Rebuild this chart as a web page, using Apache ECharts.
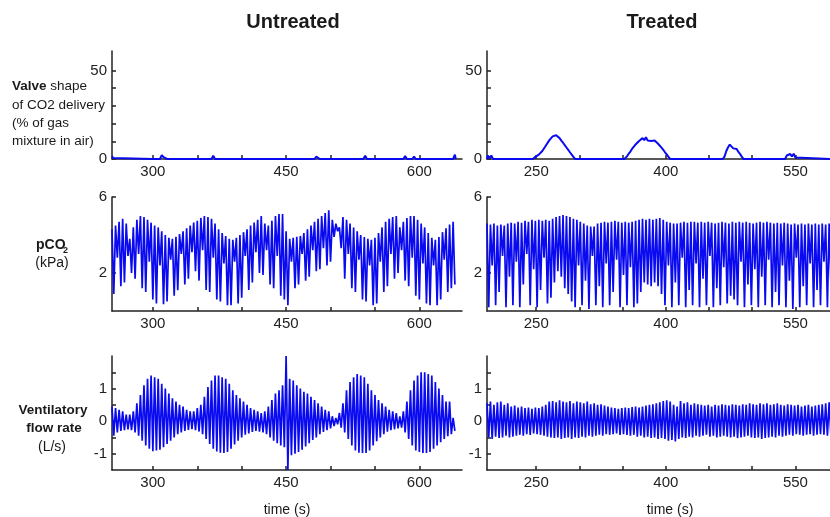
<!DOCTYPE html>
<html>
<head>
<meta charset="utf-8">
<script src="https://cdn.jsdelivr.net/npm/echarts@6/dist/echarts.min.js"></script>
<style>html,body{margin:0;padding:0;background:#fff}#main{width:830px;height:517px}</style>
</head>
<body>
<div id="main"></div>
<script>
var FONT = "'Liberation Sans', Arial, Helvetica, sans-serif";
var BLUE = '#0a0af0';

// breath-by-breath samples: one peak and one trough per breath
var breathStep = 4;
var untreatedStart = 254;
var treatedStart = 193;

var pco2UntreatedPeak = [4.3, 4.5, 4.7, 4.85, 4.6, 3.8, 4.4, 4.8, 5.0, 4.95,
  4.8, 4.65, 4.5, 4.4, 4.2, 4.0, 3.85, 3.8, 3.9, 4.05,
  4.2, 4.35, 4.5, 4.65, 4.75, 4.9, 5.0, 4.95, 4.85, 4.6,
  4.3, 4.1, 3.95, 3.8, 3.75, 3.85, 4.0, 4.15, 4.3, 4.5,
  4.65, 4.8, 5.0, 4.6, 4.5, 4.75, 5.0, 5.1, 5.1, 4.2,
  3.8, 3.85, 3.9, 3.95, 4.1, 4.3, 4.5, 4.7, 4.85, 5.0,
  5.15, 5.3, 4.8, 4.6, 4.4, 4.95, 4.8, 4.6, 4.4, 4.2,
  4.0, 3.9, 3.8, 3.75, 3.85, 4.1, 4.4, 4.7, 4.85, 4.95,
  5.0, 4.4, 4.7, 4.9, 5.0, 5.0, 4.8, 4.6, 4.4, 4.1,
  3.85, 3.75, 3.9, 4.15, 4.35, 4.55, 4.7];
var pco2UntreatedTrough = [0.9, 2.8, 1.3, 1.5, 2.9, 2.0, 1.7, 3.0, 1.2, 1.0,
  2.6, 0.6, 0.4, 2.4, 0.35, 0.5, 2.7, 0.8, 1.1, 3.0,
  1.4, 1.7, 3.1, 2.1, 1.6, 3.2, 1.1, 1.0, 2.8, 0.6,
  0.5, 2.5, 0.3, 0.3, 2.6, 0.4, 0.7, 2.9, 1.1, 1.5,
  3.1, 2.0, 1.9, 3.2, 1.4, 1.2, 2.9, 0.8, 0.6, 0.3,
  2.6, 1.2, 1.4, 3.0, 1.6, 1.8, 3.2, 2.1, 2.2, 3.3,
  2.4, 2.6, 3.9, 4.2, 3.3, 1.7, 3.0, 1.2, 1.0, 2.7,
  0.6, 0.5, 2.4, 0.3, 0.4, 2.6, 1.0, 1.3, 3.0, 1.7,
  2.0, 3.2, 1.6, 1.3, 2.8, 0.8, 0.6, 2.5, 0.4, 0.3,
  2.4, 0.3, 0.6, 2.7, 1.0, 1.2, 1.4];

var flowUntreatedPeak = [0.45, 0.4, 0.35, 0.3, 0.2, 0.2, 0.3, 0.55, 0.8, 1.1,
  1.3, 1.4, 1.35, 1.3, 1.15, 1.0, 0.85, 0.7, 0.6, 0.5,
  0.45, 0.35, 0.3, 0.3, 0.4, 0.5, 0.75, 1.05, 1.25, 1.4,
  1.4, 1.35, 1.3, 1.15, 0.95, 0.8, 0.7, 0.6, 0.5, 0.4,
  0.35, 0.3, 0.25, 0.3, 0.45, 0.65, 0.85, 0.95, 1.1, 2.0,
  1.3, 1.25, 1.1, 1.0, 0.9, 0.85, 0.75, 0.65, 0.55, 0.45,
  0.35, 0.3, 0.15, 0.1, 0.25, 0.55, 0.95, 1.2, 1.35, 1.45,
  1.4, 1.35, 1.15, 0.95, 0.8, 0.65, 0.55, 0.45, 0.35, 0.3,
  0.25, 0.15, 0.3, 0.6, 0.95, 1.25, 1.4, 1.5, 1.5, 1.45,
  1.4, 1.2, 1.0, 0.8, 0.6, 0.6, 0.1];
var flowUntreatedTrough = [-0.45, -0.35, -0.3, -0.28, -0.25, -0.28, -0.35, -0.45, -0.6, -0.75,
  -0.85, -0.92, -0.9, -0.88, -0.8, -0.7, -0.6, -0.5, -0.4, -0.35,
  -0.3, -0.27, -0.25, -0.28, -0.32, -0.4, -0.55, -0.7, -0.85, -0.93,
  -0.97, -0.98, -0.95, -0.85, -0.72, -0.6, -0.5, -0.42, -0.38, -0.33,
  -0.3, -0.32, -0.35, -0.4, -0.5, -0.6, -0.68, -0.75, -0.8, -1.5,
  -1.05, -1.0, -0.95, -0.88, -0.78, -0.68, -0.58, -0.5, -0.4, -0.33,
  -0.28, -0.22, -0.15, -0.1, -0.2, -0.35, -0.55, -0.75, -0.9, -0.97,
  -0.98, -0.98, -0.9, -0.75, -0.62, -0.5, -0.4, -0.32, -0.28, -0.25,
  -0.22, -0.2, -0.35, -0.55, -0.75, -0.9, -0.95, -0.98, -0.98, -0.95,
  -0.85, -0.75, -0.65, -0.55, -0.46, -0.4, -0.3];

var pco2TreatedPeak = [4.6, 4.55, 4.6, 4.5, 4.55, 4.5, 4.6, 4.65, 4.6, 4.7,
  4.65, 4.75, 4.7, 4.8, 4.75, 4.8, 4.75, 4.8, 4.75, 4.85,
  4.95, 5.0, 5.05, 5.0, 4.95, 4.85, 4.8, 4.7, 4.6, 4.5,
  4.45, 4.45, 4.6, 4.65, 4.7, 4.65, 4.7, 4.75, 4.7, 4.65,
  4.7, 4.65, 4.7, 4.75, 4.8, 4.85, 4.8, 4.85, 4.8, 4.85,
  4.9, 4.8, 4.7, 4.65, 4.6, 4.6, 4.65, 4.7, 4.65, 4.7,
  4.7, 4.65, 4.7, 4.65, 4.7, 4.65, 4.6, 4.65, 4.7, 4.65,
  4.6, 4.7, 4.65, 4.7, 4.65, 4.7, 4.65, 4.6, 4.65, 4.7,
  4.65, 4.7, 4.65, 4.6, 4.65, 4.6, 4.65, 4.6, 4.55, 4.6,
  4.55, 4.6, 4.55, 4.6, 4.55, 4.6, 4.55, 4.6, 4.55, 4.6];
var pco2TreatedTrough = [0.2, 2.4, 0.3, 1.0, 2.9, 0.2, 1.8, 0.3, 2.6, 0.2,
  1.4, 3.0, 0.3, 2.2, 0.2, 1.1, 2.8, 0.4, 0.7, 1.5,
  2.1, 1.8, 1.2, 0.9, 0.5, 0.2, 2.4, 0.3, 1.6, 0.1,
  2.9, 0.3, 1.3, 0.2, 2.5, 0.3, 1.0, 2.7, 0.2, 1.9,
  0.3, 2.3, 0.2, 0.4, 1.0, 1.5, 1.4, 1.3, 1.5, 1.3,
  0.9, 0.3, 2.4, 0.2, 1.5, 0.3, 2.8, 0.2, 1.1, 0.3,
  2.5, 0.2, 1.7, 0.3, 2.9, 0.2, 1.2, 0.3, 2.3, 0.4,
  0.8, 0.6, 0.3, 2.6, 0.2, 1.4, 0.3, 2.2, 0.2, 1.8,
  0.3, 2.7, 0.2, 1.0, 0.3, 2.4, 0.2, 1.6, 0.1, 2.8,
  0.2, 1.3, 0.3, 2.5, 0.2, 1.1, 0.3, 2.6, 0.2, 1.5];

var flowTreatedPeak = [0.55, 0.6, 0.5, 0.58, 0.6, 0.5, 0.55, 0.45, 0.48, 0.42,
  0.45, 0.4, 0.42, 0.38, 0.42, 0.4, 0.45, 0.5, 0.6, 0.62,
  0.58, 0.64, 0.6, 0.58, 0.62, 0.55, 0.6, 0.58, 0.55, 0.6,
  0.52, 0.55, 0.5, 0.52, 0.48, 0.45, 0.42, 0.4, 0.38, 0.4,
  0.42, 0.4, 0.43, 0.45, 0.42, 0.45, 0.48, 0.5, 0.52, 0.55,
  0.58, 0.62, 0.64, 0.6, 0.5, 0.45, 0.62, 0.55, 0.58, 0.5,
  0.55, 0.52, 0.5, 0.48, 0.5, 0.45, 0.5, 0.48, 0.52, 0.5,
  0.48, 0.52, 0.5, 0.48, 0.52, 0.5, 0.55, 0.52, 0.5, 0.55,
  0.52, 0.55, 0.5, 0.52, 0.55, 0.5, 0.48, 0.52, 0.5, 0.48,
  0.5, 0.45, 0.48, 0.5, 0.45, 0.48, 0.5, 0.52, 0.55, 0.58];
var flowTreatedTrough = [-0.5, -0.55, -0.48, -0.52, -0.5, -0.45, -0.5, -0.48, -0.45, -0.42,
  -0.45, -0.4, -0.42, -0.38, -0.4, -0.42, -0.45, -0.48, -0.5, -0.52,
  -0.5, -0.55, -0.52, -0.5, -0.55, -0.5, -0.52, -0.48, -0.5, -0.45,
  -0.48, -0.45, -0.42, -0.45, -0.4, -0.42, -0.4, -0.38, -0.42, -0.4,
  -0.42, -0.45, -0.42, -0.48, -0.45, -0.5, -0.48, -0.52, -0.5, -0.55,
  -0.52, -0.55, -0.6, -0.58, -0.62, -0.55, -0.5, -0.52, -0.48, -0.5,
  -0.45, -0.48, -0.45, -0.42, -0.48, -0.45, -0.5, -0.48, -0.45, -0.48,
  -0.5, -0.48, -0.52, -0.5, -0.48, -0.45, -0.5, -0.52, -0.5, -0.55,
  -0.52, -0.5, -0.48, -0.5, -0.45, -0.48, -0.45, -0.42, -0.45, -0.4,
  -0.42, -0.45, -0.42, -0.4, -0.45, -0.42, -0.4, -0.42, -0.45, -0.42];

// valve (CO2 delivery, %) as time / value pairs
var valveUntreatedT = [254, 255, 257, 300, 308, 310, 312, 314, 316, 366, 368, 370, 424, 426, 428,
  482, 484, 486, 488, 537, 539, 541, 582, 584, 586, 592, 594, 596, 638, 640, 641];
var valveUntreatedV = [1.8, 0.6, 0, 0, 0, 2.2, 1.0, 2.0, 0, 0, 1.9, 0, 0, 1.0, 0,
  0, 1.3, 0.8, 0, 0, 1.9, 0, 0, 1.7, 0, 0, 1.3, 0, 0, 2.4, 0];
var valveTreatedT = [193, 194, 196, 198, 200,
  246, 249, 251, 253, 255, 257, 259, 261, 263, 265, 267, 269, 271, 273, 275, 277, 279, 281, 283, 285, 287, 289, 291, 293, 295,
  337, 338, 339,
  352, 355, 357, 359, 361, 363, 365, 367, 369, 371, 373, 375, 377, 379, 381, 383, 385, 387, 389, 391, 393, 395, 397, 399, 401, 403, 405,
  466, 468, 470, 472, 474, 476, 478, 480, 482, 484, 486, 488, 490,
  538, 540, 542, 544, 546, 548, 550, 552, 590];
var valveTreatedV = [0, 2, 0.5, 2, 0,
  0, 1.2, 0.5, 2.5, 1.5, 4.5, 5.5, 7.5, 8.5, 10.5, 11.5, 12.8, 13.6, 13.4, 12.8, 11.8, 10.4, 9.2, 7.8, 6.5, 5.2, 3.8, 2.5, 1.2, 0,
  0, 1.0, 0,
  0, 1.5, 3.0, 4.2, 5.8, 7.0, 8.2, 9.0, 10.2, 10.8, 11.8, 10.6, 12.3, 10.4, 11.5, 10.2, 11.0, 10.4, 9.5, 8.6, 7.5, 6.4, 5.2, 3.8, 2.6, 1.2, 0,
  0, 1.5, 4.5, 6.6, 8.1, 7.6, 6.0, 7.0, 5.7, 4.0, 2.8, 1.2, 0,
  0, 2.0, 1.0, 2.8, 1.5, 3.0, 0.8, 0, 0];

var untreatedLabels = [300, 450, 600];
var untreatedTicks = [300, 350, 400, 450, 500, 550, 600];
var treatedLabels = [250, 400, 550];
var treatedTicks = [250, 300, 350, 400, 450, 500, 550];

function breaths(t0, peaks, troughs) {
  var out = [];
  for (var i = 0; i < peaks.length; i++) {
    out.push([t0 + i * breathStep, peaks[i]]);
    out.push([t0 + i * breathStep + breathStep / 2, troughs[i]]);
  }
  return out;
}
function pairs(ts, vs) {
  return ts.map(function (t, i) { return [t, vs[i]]; });
}

var myChart = echarts.init(document.getElementById('main'));

var AX = '#222';
function xAx(g, min, max, labels, ticks) {
  return {
    type: 'value', gridIndex: g, min: min, max: max,
    axisLine: { onZero: false, lineStyle: { color: AX, width: 1.5 } },
    axisTick: { inside: true, length: 4, customValues: ticks, lineStyle: { color: AX, width: 1.5 } },
    axisLabel: { customValues: labels, color: AX, fontSize: 15, fontFamily: FONT, margin: 5 },
    splitLine: { show: false }
  };
}
function yAx(g, min, max, labels, ticks) {
  return {
    type: 'value', gridIndex: g, min: min, max: max,
    axisLine: { show: true, onZero: false, lineStyle: { color: AX, width: 1.5 } },
    axisTick: { show: true, inside: true, length: 4, customValues: ticks, lineStyle: { color: AX, width: 1.5 } },
    axisLabel: { customValues: labels, color: AX, fontSize: 15, fontFamily: FONT, margin: 5 },
    splitLine: { show: false }
  };
}
function trace(g, data, w) {
  return {
    type: 'line', xAxisIndex: g, yAxisIndex: g, data: data,
    showSymbol: false, symbol: 'none', animation: false,
    lineStyle: { color: BLUE, width: w }
  };
}

function txt(x, y, text, opts) {
  opts = opts || {};
  return {
    type: 'text', x: x, y: y,
    style: {
      text: text, fill: '#1a1a1a',
      font: (opts.bold ? 'bold ' : '') + (opts.size || 14) + 'px ' + FONT,
      align: opts.align || 'center', verticalAlign: 'middle',
      rich: opts.rich
    }
  };
}

var option = {
  backgroundColor: '#fff',
  animation: false,
  grid: [
    { left: 112, top: 51, width: 350, height: 108 },
    { left: 487, top: 51, width: 348, height: 108 },
    { left: 112, top: 197, width: 350, height: 114 },
    { left: 487, top: 197, width: 348, height: 114 },
    { left: 112, top: 356, width: 350, height: 114 },
    { left: 487, top: 356, width: 348, height: 114 }
  ],
  xAxis: [
    xAx(0, 254, 648, untreatedLabels, untreatedTicks),
    xAx(1, 193, 590, treatedLabels, treatedTicks),
    xAx(2, 254, 648, untreatedLabels, untreatedTicks),
    xAx(3, 193, 590, treatedLabels, treatedTicks),
    xAx(4, 254, 648, untreatedLabels, untreatedTicks),
    xAx(5, 193, 590, treatedLabels, treatedTicks)
  ],
  yAxis: [
    yAx(0, 0, 61, [0, 50], [0, 10, 20, 30, 40, 50]),
    yAx(1, 0, 61, [0, 50], [0, 10, 20, 30, 40, 50]),
    yAx(2, 0, 6, [2, 6], [2, 6]),
    yAx(3, 0, 6, [2, 6], [2, 6]),
    yAx(4, -1.5, 2, [-1, 0, 1], [-1, -0.5, 0, 0.5, 1, 1.5]),
    yAx(5, -1.5, 2, [-1, 0, 1], [-1, -0.5, 0, 0.5, 1, 1.5])
  ],
  series: [
    trace(0, pairs(valveUntreatedT, valveUntreatedV), 2),
    trace(1, pairs(valveTreatedT, valveTreatedV), 2),
    trace(2, breaths(untreatedStart, pco2UntreatedPeak, pco2UntreatedTrough), 1.7),
    trace(3, breaths(treatedStart, pco2TreatedPeak, pco2TreatedTrough), 1.7),
    trace(4, breaths(untreatedStart, flowUntreatedPeak, flowUntreatedTrough), 1.7),
    trace(5, breaths(treatedStart, flowTreatedPeak, flowTreatedTrough), 1.7)
  ],
  graphic: [
    txt(293, 22, 'Untreated', { bold: true, size: 20 }),
    txt(662, 22, 'Treated', { bold: true, size: 20 }),
    txt(12, 86, '{b|Valve} shape', { align: 'left', size: 13.5,
      rich: { b: { fontWeight: 'bold', fontSize: 13.5, fontFamily: FONT, fill: '#1a1a1a' } } }),
    txt(12, 105, 'of CO2 delivery', { align: 'left', size: 13.5 }),
    txt(12, 123, '(% of gas', { align: 'left', size: 13.5 }),
    txt(12, 141, 'mixture in air)', { align: 'left', size: 13.5 }),
    txt(36, 245, 'pCO', { align: 'left', bold: true, size: 14 }),
    txt(63, 251, '2', { align: 'left', bold: true, size: 9 }),
    txt(52, 263, '(kPa)', { size: 14 }),
    txt(53, 410, 'Ventilatory', { bold: true, size: 13.5 }),
    txt(54, 428, 'flow rate', { bold: true, size: 13.5 }),
    txt(52, 447, '(L/s)', { size: 14 }),
    txt(287, 510, 'time (s)', { size: 14 }),
    txt(670, 510, 'time (s)', { size: 14 })
  ]
};
myChart.setOption(option);
</script>
</body>
</html>
